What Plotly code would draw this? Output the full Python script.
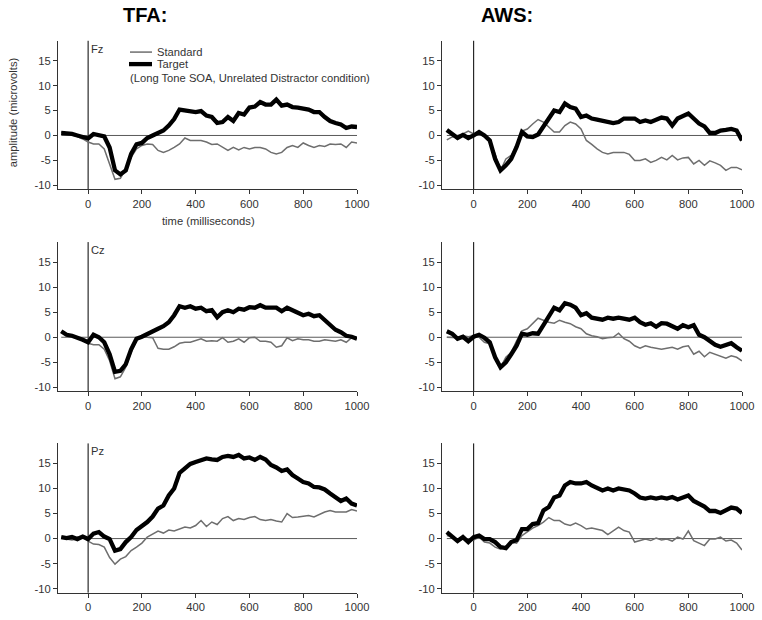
import plotly.graph_objects as go

# time axis (ms)
t = list(range(-100, 1001, 20))

electrodes = ["Fz", "Cz", "Pz"]
groups = ["TFA:", "AWS:"]

tfa_fz_target = [0.5, 0.5, 0.3, 0, -0.4, -0.6, 0.3, 0, -0.2,
                 -2.4, -7, -7.8, -7, -3.7, -1.8, -1.5,
                 -0.5, 0, 0.5, 1, 2, 3.3, 5.2, 5, 4.8, 4.7,
                 4.9, 4, 3.7, 2.5, 2.7, 3.7, 2.9, 4.5, 4.2, 5.6,
                 5.8, 6.7, 6.2, 6.2, 7.2, 6, 6.2, 5.7, 5.6, 5.4,
                 5.2, 4.7, 4.7, 3.7, 2.9, 2.5, 2.2, 1.5, 1.8, 1.7]
tfa_fz_standard = [0.7, 0.3, 0.1, -0.2, -0.7, -1.3, -1.7, -1.7, -2.7,
                   -5.7, -8.8, -8.6, -6.7, -4.4, -2.7, -2,
                   -1.7, -1.8, -3, -3.4, -3, -2.4, -1.7, -0.5, -1, -1,
                   -1, -1.3, -1.8, -1.7, -2.4, -3, -2.4, -2.9, -2.4, -2.7,
                   -2.4, -2.4, -2.7, -3.4, -3.7, -3.4, -2.4, -2, -2.4, -1.5,
                   -2, -2.4, -2, -2.2, -1.7, -1.8, -1.7, -2.4, -1.3, -1.5]
aws_fz_target = [1.1, 0.3, -0.5, 0.1, -0.5, 0, 0.7, 0, -1,
                 -4.7, -7, -6, -4.7, -2.3, 0.7, -0.2,
                 -0.3, 0.2, 2, 3.4, 5, 4.7, 6.4, 5.7, 5.4, 3.7,
                 4, 3.4, 3.2, 2.9, 2.7, 2.5, 2.7, 3.4, 3.4, 3.4,
                 2.7, 3, 2.7, 3.2, 3.6, 3.4, 2, 3.4, 4, 4.4,
                 3.4, 2.4, 1.8, 0.5, 0.5, 1, 1.1, 1.3, 1, -1]
aws_fz_standard = [-0.9, -0.3, 0, 0.3, 0.9, 0.3, 0.3, -0.2, -1.3,
                   -3.7, -7, -4.7, -4, -2.3, 0.9, 1.3,
                   2.3, 3.2, 2.7, 1.7, 0.7, 0.7, 2, 2.7, 2.3, 1.3,
                   -1, -1.8, -2.7, -3.4, -3.7, -3.4, -3.4, -3.4, -3.8, -5,
                   -5, -4.7, -5.4, -5, -4.4, -4.9, -4, -4.9, -4.5, -4.4,
                   -5.7, -5, -6, -5.1, -5.5, -6, -7, -6.4, -6.4, -6.9]

tfa_cz_target = [1.2, 0.5, 0.3, 0, -0.5, -1, 0.5, 0, -1,
                 -3.4, -6.9, -6.7, -5.4, -2.4, -0.3, 0.1,
                 0.7, 1.2, 1.7, 2.2, 3, 4.4, 6.2, 5.9, 6.2, 5.7,
                 5.9, 5.2, 5.4, 4, 5, 5.4, 5, 5.7, 5.5, 6,
                 5.9, 6.4, 5.9, 5.9, 5.9, 5.2, 5.9, 5.4, 5, 4.4,
                 4.7, 4.2, 4.4, 3.4, 2.4, 1.5, 1, 0.3, 0.1, -0.3]
tfa_cz_standard = [1, 0.7, 0.3, 0, -0.5, -1.2, -1.5, -1.5, -2.4,
                   -4.7, -8.3, -7.9, -6, -3, -0.7, 0.3,
                   0, -0.1, -2.2, -2.4, -2.4, -1.9, -1.2, -1, -1, -0.7,
                   -0.3, -0.8, -0.7, -0.8, -0.1, -1, -0.8, -0.3, -1, -0.1,
                   0, -0.8, -0.8, -1, -2, -1.7, -0.1, -0.7, -0.3, -0.5,
                   -0.5, -0.8, -0.8, -0.5, -0.7, -0.8, -0.5, -1, -0.1, -0.1]
aws_cz_target = [1.2, 0.7, -0.3, 0.1, -0.8, 0.1, 0.5, -0.1, -1,
                 -4, -6, -5, -3.4, -1.7, 0.7, 0.5,
                 0.8, 0.7, 2.4, 4, 5.9, 5.4, 6.8, 6.5, 5.9, 4.4,
                 4.8, 3.9, 3.7, 3.5, 3.9, 3.7, 3.9, 3.7, 3.5, 3.9,
                 3, 2.5, 2.8, 2.1, 2.8, 2.7, 2.1, 1.7, 2.4, 2,
                 2.4, 0.5, 0, -0.8, -1.5, -1.9, -1.5, -1.2, -2, -2.7]
aws_cz_standard = [0, -0.1, -0.1, 0.3, 0.1, 0.3, 0, -1, -1.3,
                   -4, -6, -4, -3, -0.7, 1.3, 1.7,
                   2.7, 3.8, 3.4, 3, 2.8, 3.4, 3, 2.7, 2.1, 1.7,
                   0.7, 0.3, 0.1, -0.3, -0.1, 0, 0.8, -0.3, -0.8, -1.7,
                   -2.2, -1.7, -2, -2.2, -2.4, -2.2, -2, -2.4, -1.9, -1.7,
                   -3.4, -2.8, -3.9, -3, -3.4, -3.7, -4.2, -3.7, -4, -4.7]

tfa_pz_target = [0.3, 0.1, 0.3, -0.1, 0.4, -0.1, 1.0, 1.3, 0.4,
                 -0.1, -2.4, -2.1, -0.7, 0.3, 1.7, 2.4,
                 3.3, 4.4, 6, 6.6, 8.6, 10, 13.1, 14, 14.9, 15.3,
                 15.7, 16, 15.8, 15.7, 16.3, 16.5, 16.3, 16.7, 16, 16.2,
                 15.7, 16.3, 15.8, 14.7, 14.2, 13.5, 13.8, 12.7, 12, 11.3,
                 11, 10.3, 10.2, 9.8, 9, 8.2, 7.5, 8, 7, 6.6]
tfa_pz_standard = [0.3, -0.1, -0.3, -0.1, 0.3, -0.5, -1.1, -1.2, -1.7,
                   -3.8, -5.1, -4.1, -3.6, -2.4, -1.7, -0.9,
                   0.3, 0.9, 1.5, 1.1, 1.7, 1.5, 1.9, 2.3, 2.1, 2.6,
                   3.6, 2.4, 3.3, 2.8, 4, 4.4, 3.6, 4, 3.8, 4.2,
                   4.4, 3.8, 3.6, 3.8, 3.5, 3.3, 5, 4.2, 4.3, 4.4,
                   4.6, 4.3, 4.8, 5.3, 5.6, 5.3, 5.3, 5.3, 5.8, 5.5]
aws_pz_target = [1.3, 0.3, -0.5, 0.3, -0.7, 0.3, 0.6, -0.1, -0.1,
                 -0.7, -1.7, -1.9, -0.7, -0.3, 1.9, 1.9,
                 2.9, 3.1, 5.6, 6.3, 8.2, 8.6, 10.6, 11.3, 11, 11,
                 11.3, 10.6, 10, 9.6, 10, 9.6, 10, 9.8, 9.6, 9,
                 8.2, 8, 8.2, 8, 8.2, 8, 8.3, 7.8, 8.2, 8.6,
                 7.5, 7, 6.4, 5.5, 5.5, 5.1, 5.6, 6.2, 6, 5.1]
aws_pz_standard = [0.6, 0.3, -0.5, -0.1, -0.4, -0.3, 0.3, -0.7, -0.9,
                   -1.7, -2.1, -1.7, -0.7, -0.9, 0.6, 1.3,
                   2.1, 2.6, 3.3, 4.2, 3.6, 3.6, 2.9, 2.6, 3.1, 2.6,
                   1.9, 2.1, 1.9, 1.6, 0.8, 1.5, 2.3, 1.6, 1.3, -0.7,
                   -0.4, -0.1, -0.4, 0.1, -0.3, -0.1, -0.5, 0.3, -0.1, 1.5,
                   -0.4, -0.9, -1.4, -0.1, -0.1, 0.3, -0.5, -0.3, -0.9, -2.3]

x_ticks = [0, 200, 400, 600, 800, 1000]
y_ticks = [-10, -5, 0, 5, 10, 15]

panels = [
    (tfa_fz_standard, tfa_fz_target), (aws_fz_standard, aws_fz_target),
    (tfa_cz_standard, tfa_cz_target), (aws_cz_standard, aws_cz_target),
    (tfa_pz_standard, tfa_pz_target), (aws_pz_standard, aws_pz_target),
]

# reference image grid (positions below are given in these pixels)
W, H = 762, 620
# figure size (the rendered page maps onto the reference grid)
FW, FH = 774, 623
FONT = "Liberation Sans, Arial, Helvetica, sans-serif"
AX = "#333333"
STD_COLOR = "#6e6e6e"
FS = 11.2
TGT_W = 4.3

x_domains = [[58 / W, 357 / W], [442 / W, 742 / W]]
x_ranges = [[-112, 1000], [-118, 1000]]
y_pix = [(40.7, 189), (241.7, 390.7), (442.7, 591.7)]
y_domains = [[1 - b / H, 1 - a / H] for a, b in y_pix]
y_range = [-10.8, 19.0]

fig = go.Figure()
shapes = []
annotations = []
layout_axes = {}

for i, (std, tgt) in enumerate(panels):
    r, c = divmod(i, 2)
    n = i + 1
    xa = "x" if n == 1 else f"x{n}"
    ya = "y" if n == 1 else f"y{n}"
    fig.add_trace(go.Scatter(x=t, y=std, mode="lines", xaxis=xa, yaxis=ya,
                             line=dict(color=STD_COLOR, width=1.5),
                             name="Standard", showlegend=False))
    fig.add_trace(go.Scatter(x=t, y=tgt, mode="lines", xaxis=xa, yaxis=ya,
                             line=dict(color="black", width=TGT_W),
                             name="Target", showlegend=False))
    xkey = "xaxis" if n == 1 else f"xaxis{n}"
    ykey = "yaxis" if n == 1 else f"yaxis{n}"
    layout_axes[xkey] = dict(
        domain=x_domains[c], range=x_ranges[c], anchor=ya,
        tickmode="array", tickvals=x_ticks, ticktext=[str(v) for v in x_ticks],
        showline=True, linecolor=AX, linewidth=1, ticks="outside",
        ticklen=4, tickcolor=AX, showgrid=False, zeroline=False,
        tickfont=dict(family=FONT, size=FS, color=AX),
    )
    layout_axes[ykey] = dict(
        domain=y_domains[r], range=y_range, anchor=xa,
        tickmode="array", tickvals=y_ticks, ticktext=[str(v) for v in y_ticks],
        showline=True, linecolor=AX, linewidth=1, ticks="outside",
        ticklen=4, tickcolor=AX, showgrid=False, zeroline=False,
        tickfont=dict(family=FONT, size=FS, color=AX),
    )
    # zero baseline
    shapes.append(dict(type="line", xref=xa, yref=ya, x0=-100, x1=1000, y0=0, y1=0,
                       line=dict(color="#5a5a5a", width=1), layer="below"))
    # stimulus onset line
    shapes.append(dict(type="line", xref=xa, yref=f"{ya} domain", x0=0, x1=0, y0=0, y1=1,
                       line=dict(color="black", width=1), layer="below"))
    if c == 0:
        annotations.append(dict(text=electrodes[r], xref=xa, yref=f"{ya} domain",
                                x=5, y=1.0, xanchor="left", yanchor="top",
                                showarrow=False, font=dict(family=FONT, size=FS, color=AX)))

# group titles
annotations.append(dict(text="<b>TFA:</b>", xref="paper", yref="paper", x=145 / W, y=1 - 15 / H,
                        xanchor="center", yanchor="middle", showarrow=False,
                        font=dict(family=FONT, size=20, color="black")))
annotations.append(dict(text="<b>AWS:</b>", xref="paper", yref="paper", x=507 / W, y=1 - 15 / H,
                        xanchor="center", yanchor="middle", showarrow=False,
                        font=dict(family=FONT, size=20, color="black")))
# axis titles
annotations.append(dict(text="amplitude (microvolts)", xref="paper", yref="paper",
                        x=13 / W, y=1 - 112 / H, textangle=-90, xanchor="center", yanchor="middle",
                        showarrow=False, font=dict(family=FONT, size=FS, color=AX)))
annotations.append(dict(text="time (milliseconds)", xref="paper", yref="paper",
                        x=209 / W, y=1 - 221 / H, xanchor="center", yanchor="middle",
                        showarrow=False, font=dict(family=FONT, size=FS, color=AX)))
# legend
shapes.append(dict(type="line", xref="paper", yref="paper", x0=130 / W, x1=152 / W,
                   y0=1 - 52 / H, y1=1 - 52 / H, line=dict(color=STD_COLOR, width=1.5)))
shapes.append(dict(type="line", xref="paper", yref="paper", x0=129 / W, x1=152 / W,
                   y0=1 - 64 / H, y1=1 - 64 / H, line=dict(color="black", width=TGT_W)))
annotations.append(dict(text="Standard", xref="paper", yref="paper", x=155 / W, y=1 - 52 / H,
                        xanchor="left", yanchor="middle", showarrow=False,
                        font=dict(family=FONT, size=FS, color=AX)))
annotations.append(dict(text="Target", xref="paper", yref="paper", x=155 / W, y=1 - 64 / H,
                        xanchor="left", yanchor="middle", showarrow=False,
                        font=dict(family=FONT, size=FS, color=AX)))
annotations.append(dict(text="(Long Tone SOA, Unrelated Distractor condition)", xref="paper", yref="paper",
                        x=128 / W, y=1 - 78 / H, xanchor="left", yanchor="middle", showarrow=False,
                        font=dict(family=FONT, size=FS, color=AX)))

fig.update_layout(
    width=FW, height=FH,
    margin=dict(l=0, r=0, t=0, b=0),
    paper_bgcolor="white", plot_bgcolor="white",
    showlegend=False,
    shapes=shapes, annotations=annotations,
    font=dict(family=FONT, size=FS, color=AX),
    **layout_axes,
)

fig.write_html(
    "out.html",
    config={"responsive": False, "displayModeBar": False},
    post_script="document.body.style.margin='0';document.body.style.overflow='hidden';",
)
